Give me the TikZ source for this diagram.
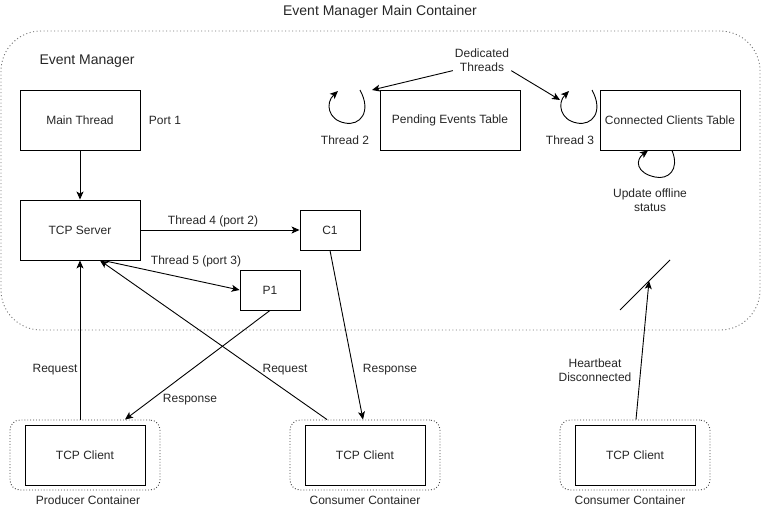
\documentclass[tikz,border=0pt]{standalone}
\usepackage{fontspec}
\setmainfont{Liberation Sans}
\usetikzlibrary{arrows.meta}
\begin{document}
\begin{tikzpicture}[x=1pt,y=-1pt,
  txt/.style={font=\fontsize{12}{14}\selectfont,text=black!85,inner sep=2pt,align=center},
  bigtxt/.style={font=\fontsize{14}{16}\selectfont,text=black!85,inner sep=2pt},
  box/.style={draw,line width=0.9pt,minimum width=120pt,minimum height=60pt,inner sep=0pt,font=\fontsize{12}{14}\selectfont,text=black!85},
  smallbox/.style={box,minimum width=60pt,minimum height=40pt},
  widebox/.style={box,minimum width=140pt},
  maincont/.style={draw=black!55,line width=0.9pt,dash pattern=on 1pt off 2.5pt,rounded corners=40pt,inner sep=0pt},
  subcont/.style={draw=black!75,line width=0.9pt,dotted,rounded corners=10pt,minimum width=150pt,minimum height=70pt,inner sep=0pt},
  arr/.style={line width=0.9pt,-{Stealth[length=8pt,width=7pt,inset=2pt]}},
  ln/.style={line width=0.9pt}
]
\useasboundingbox (0,0) rectangle (762,512);

% containers
\node[maincont,minimum width=759pt,minimum height=299pt] (main) at (380.5,180.5) {};
\node[subcont] (pc) at (85,455) {};
\node[subcont] (cc1) at (365,455) {};
\node[subcont] (cc2) at (635,455) {};

% boxes
\node[box] (mt) at (80,120) {Main Thread};
\node[box] (tcp) at (80,230) {TCP Server};
\node[smallbox] (c1) at (330,230) {C1};
\node[smallbox] (p1) at (270,290) {P1};
\node[widebox] (pet) at (450,120) {Pending Events Table};
\node[widebox] (cct) at (670,120) {Connected Clients Table};
\node[box] (tc1) at (85,455) {TCP Client};
\node[box] (tc2) at (365,455) {TCP Client};
\node[box] (tc3) at (635,455) {TCP Client};

% labels
\node[bigtxt] (title) at (380,12) {Event Manager Main Container};
\node[bigtxt] (em) at (87,61) {Event Manager};
\node[txt] (port1) at (165,120) {Port 1};
\node[txt] (th2) at (345,140) {Thread 2};
\node[txt] (th3) at (570,140) {Thread 3};
\node[txt] (ded) at (482,60) {Dedicated\\Threads};
\node[txt] (upd) at (650,200) {Update offline\\status};
\node[txt] (th4) at (213,221) {Thread 4 (port 2)};
\node[txt] (th5) at (196,261) {Thread 5 (port 3)};
\node[txt] (req1) at (55,370) {Request};
\node[txt] (resp1) at (190,400) {Response};
\node[txt] (req2) at (285,370) {Request};
\node[txt] (resp2) at (390,370) {Response};
\node[txt] (hb) at (595,370) {Heartbeat\\Disconnected};
\node[txt] (pcl) at (88,500) {Producer Container};
\node[txt] (cc1l) at (365,500) {Consumer Container};
\node[txt] (cc2l) at (630,500) {Consumer Container};

% coordinates
\coordinate (t2top) at (372,90);
\coordinate (t3top) at (560,100);
\coordinate (hb1) at (620,310);
\coordinate (hb2) at (670,260);
\coordinate (hbm) at (649,281);

% loops
\draw[arr] (360,90) .. controls (372,112) and (360,126) .. (345,123) .. controls (328,120) and (325,103) .. (338,91);
\draw[arr] (592,90) .. controls (604,112) and (592,126) .. (577,123) .. controls (560,120) and (557,103) .. (569,91);
\draw[arr] ([xshift=2pt]cct.south) .. controls (680,170) and (668,180) .. (655,177) .. controls (636,173) and (635,160) .. ([xshift=-22pt]cct.south);

% connectors
\draw[arr] (ded.200) -- (t2top);
\draw[arr] (ded.340) -- (t3top);
\draw[arr] (mt.south) -- (tcp.north);
\draw[arr] (tcp.east) -- (c1.west);
\draw[arr] ([xshift=23pt]tcp.south) -- (p1.west);
\draw[arr] (pc.north -| tcp.south) -- (tcp.south);
\draw[arr] (p1.south) -- ([xshift=40pt]pc.north);
\draw[arr] ([xshift=-38pt]cc1.north) -- ([xshift=20pt]tcp.south);
\draw[arr] (c1.south) -- ([xshift=-2pt]cc1.north);
\draw[ln] (hb1) -- (hb2);
\draw[arr] ([xshift=1pt]cc2.north) -- (hbm);
\end{tikzpicture}
\end{document}
